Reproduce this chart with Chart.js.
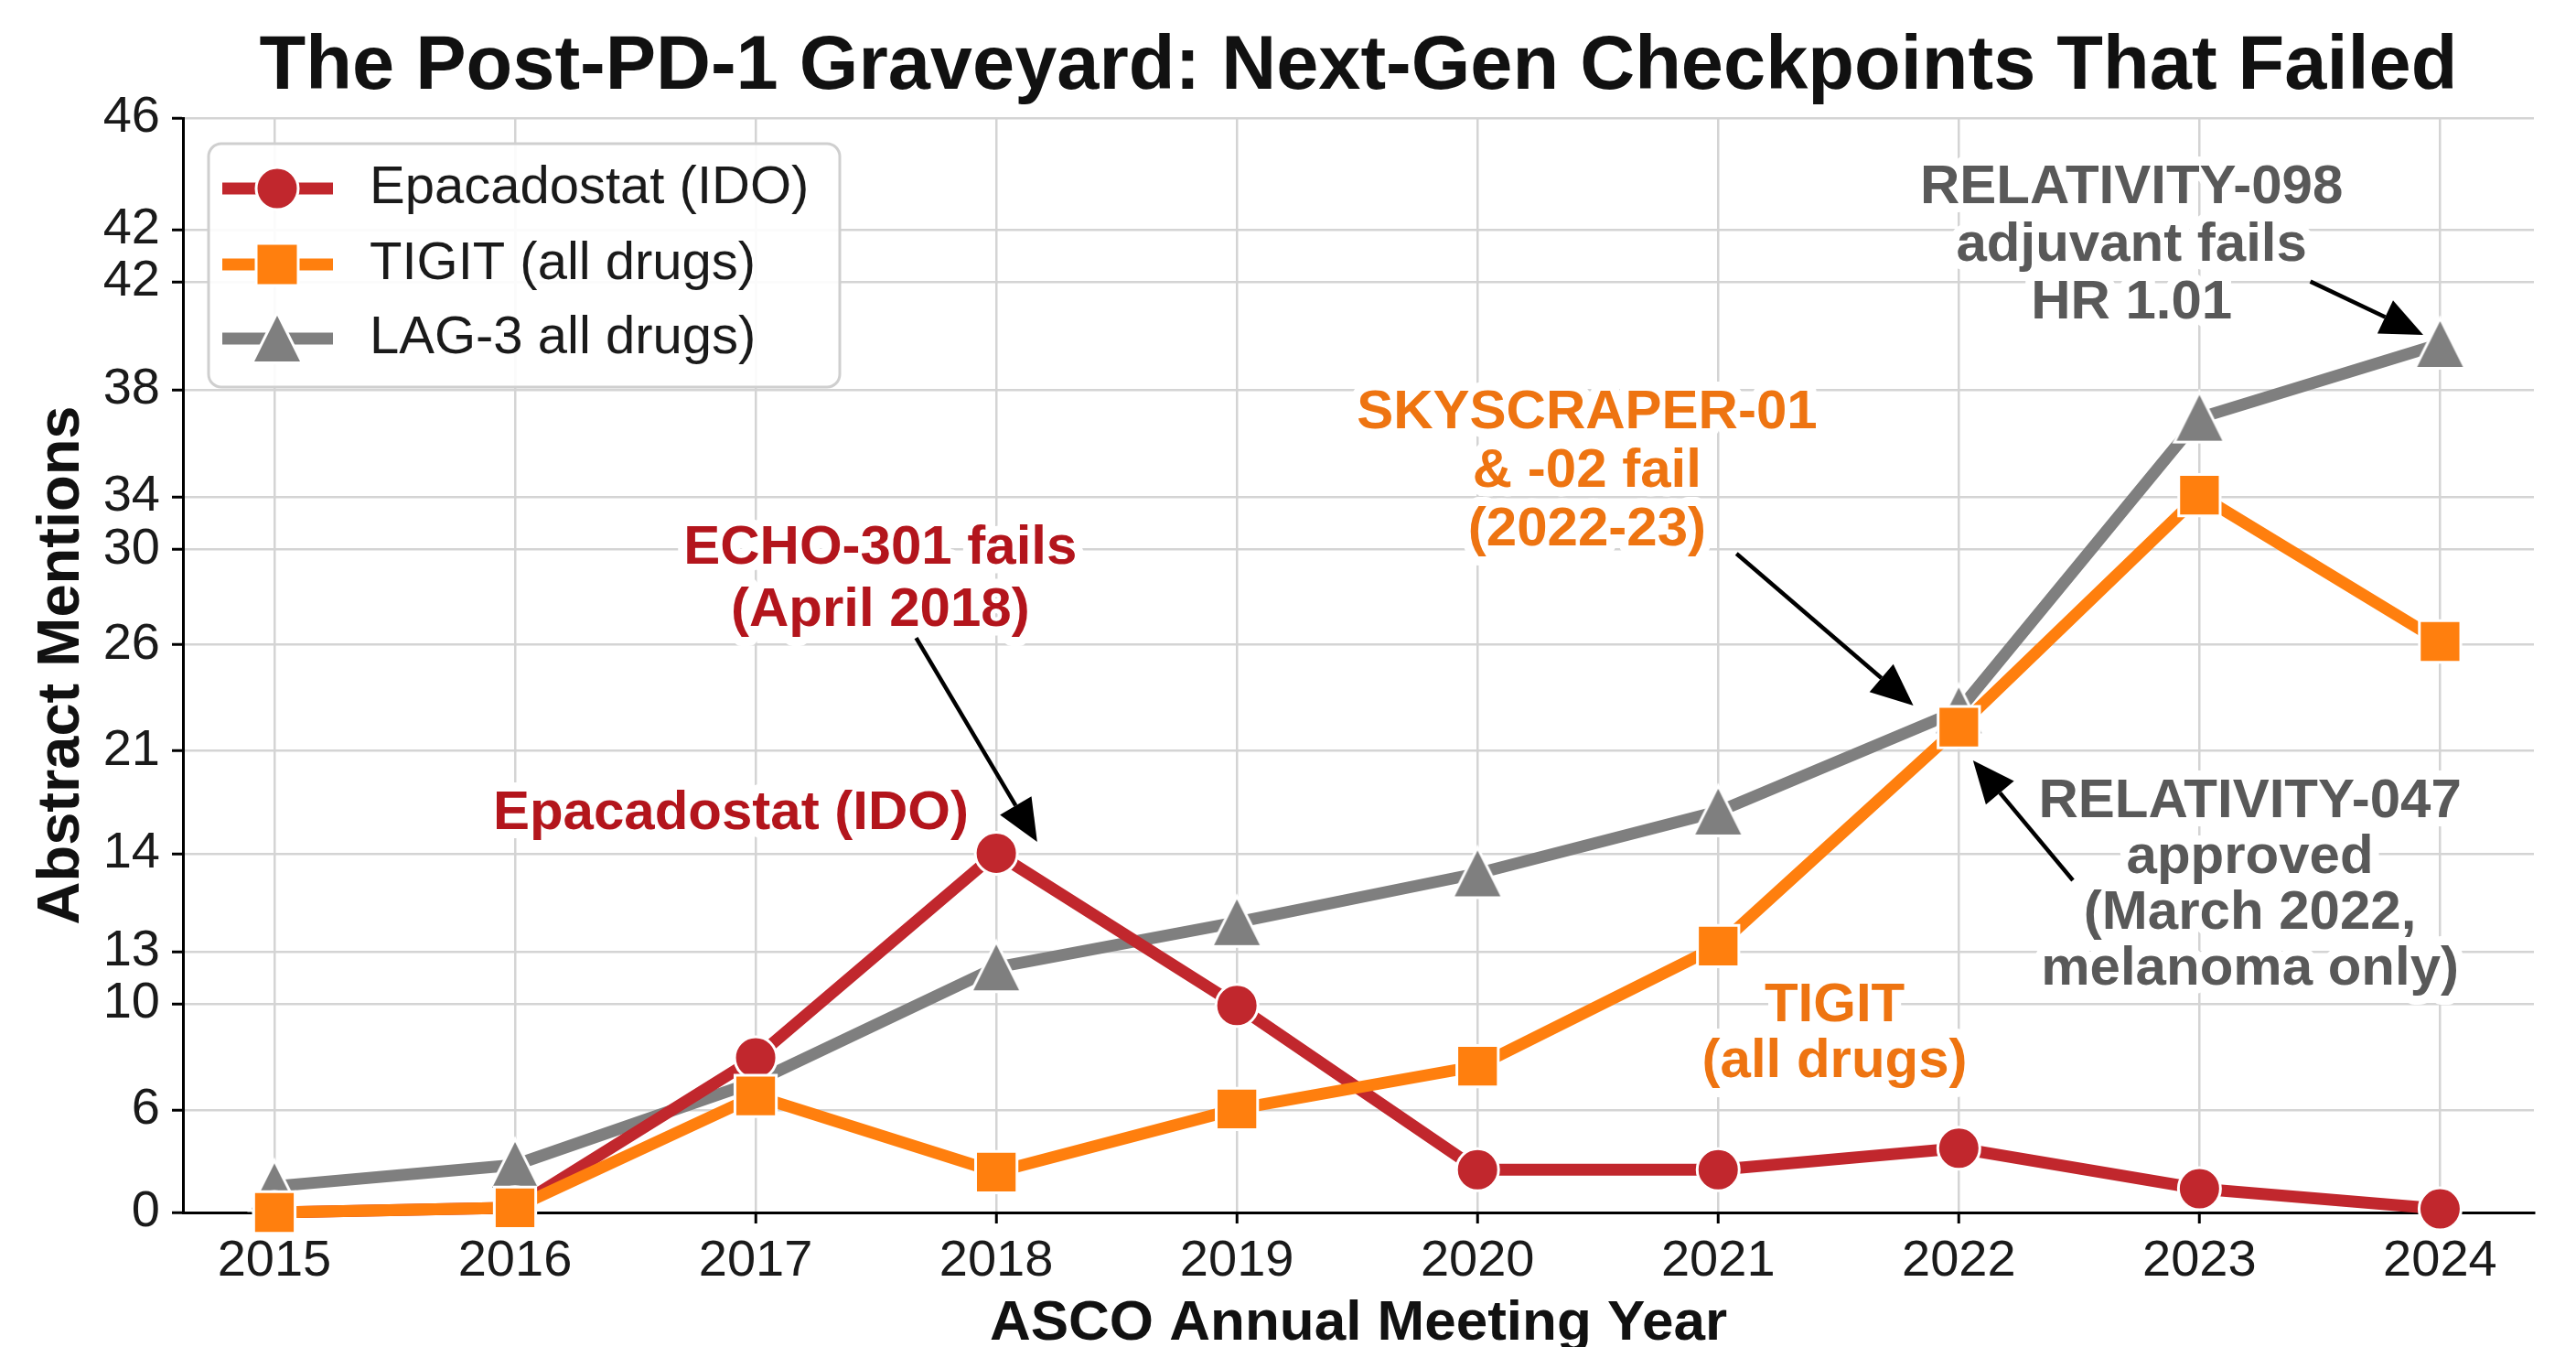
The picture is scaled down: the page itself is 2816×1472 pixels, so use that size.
<!DOCTYPE html>
<html><head><meta charset="utf-8">
<script src="https://cdn.jsdelivr.net/npm/chart.js@4.4.1/dist/chart.umd.min.js"></script>
<style>html,body{margin:0;padding:0;background:#fff;overflow:hidden}</style>
</head><body>
<canvas id="c" width="2816" height="1472" style="width:2816px;height:1472px;display:block"></canvas>
<script>
// ---------- data ----------
const years = [2015, 2016, 2017, 2018, 2019, 2020, 2021, 2022, 2023, 2024];
const epacadostat = [0, 0.2, 6.5, 15.1, 8.7, 1.8, 1.8, 2.7, 1.0, 0.15];
const tigit = [0, 0.2, 4.9, 1.7, 4.35, 6.15, 11.2, 20.4, 30.15, 24.0];
const lag3 = [1.1, 2.0, 5.5, 10.3, 12.2, 14.25, 16.85, 21.1, 33.4, 36.5];
const seriesNames = ['Epacadostat (IDO)', 'TIGIT (all drugs)', 'LAG-3 all drugs)'];
const yTickValues = [0, 4.31, 8.77, 10.96, 15.08, 19.42, 23.88, 27.88, 30.08, 34.58, 39.12, 41.31, 46];
const yTickLabels = ['0', '6', '10', '13', '14', '21', '26', '30', '34', '38', '42', '42', '46'];
const titleText = 'The Post-PD-1 Graveyard: Next-Gen Checkpoints That Failed';
const xTitle = 'ASCO Annual Meeting Year';
const yTitle = 'Abstract Mentions';

// ---------- styling ----------
const FONT = '"Liberation Sans", Arial, Helvetica, sans-serif';
const RED = '#c1272d', ORANGE = '#ff7f0e', GRAY = '#7f7f7f';
const RED_TXT = '#b3151c', ORANGE_TXT = '#ee7411', GRAY_TXT = '#595959';

// annotations (positions in data units)
const annotations = [
  {lines: ['ECHO-301 fails', '(April 2018)'], x: 2017.518, y: 26.6, gap: 68, color: RED_TXT,
   arrow: [2017.667, 24.15, 2018.17, 15.58]},
  {lines: ['Epacadostat (IDO)'], x: 2016.897, y: 16.77, gap: 63, color: RED_TXT},
  {lines: ['SKYSCRAPER-01', '& -02 fail', '(2022-23)'], x: 2020.455, y: 31.13, gap: 64, color: ORANGE_TXT,
   arrow: [2021.076, 27.69, 2021.811, 21.31]},
  {lines: ['RELATIVITY-098', 'adjuvant fails', 'HR 1.01'], x: 2022.718, y: 40.63, gap: 63, color: GRAY_TXT,
   arrow: [2023.461, 39.13, 2023.93, 36.88]},
  {lines: ['RELATIVITY-047', 'approved', '(March 2022,', 'melanoma only)'], x: 2023.21, y: 13.73, gap: 61, color: GRAY_TXT,
   arrow: [2022.474, 13.96, 2022.059, 19.0]},
  {lines: ['TIGIT', '(all drugs)'], x: 2021.484, y: 7.5, gap: 61, color: ORANGE_TXT}
];

function triangleMarker(size, fill, edge) {
  const pad = edge * 3 + 2;
  const c = document.createElement('canvas');
  c.width = c.height = Math.ceil(size + 2 * pad);
  const g = c.getContext('2d');
  g.beginPath();
  g.moveTo(c.width / 2, pad);
  g.lineTo(pad + size, pad + size);
  g.lineTo(pad, pad + size);
  g.closePath();
  g.lineJoin = 'miter';
  g.lineWidth = edge * 2; g.strokeStyle = '#fff'; g.stroke();
  g.fillStyle = fill; g.fill();
  return c;
}
const triCanvas = triangleMarker(50, GRAY, 3);

function drawArrow(ctx, x0, y0, x1, y1) {
  const ang = Math.atan2(y1 - y0, x1 - x0);
  const hl = 46, hw = 20;
  const bx = x1 - hl * Math.cos(ang), by = y1 - hl * Math.sin(ang);
  ctx.save();
  ctx.strokeStyle = '#000'; ctx.lineWidth = 4.5; ctx.lineCap = 'butt';
  ctx.beginPath(); ctx.moveTo(x0, y0); ctx.lineTo(bx, by); ctx.stroke();
  ctx.beginPath(); ctx.moveTo(x1, y1);
  ctx.lineTo(bx + hw * Math.sin(ang), by - hw * Math.cos(ang));
  ctx.lineTo(bx - hw * Math.sin(ang), by + hw * Math.cos(ang));
  ctx.closePath(); ctx.fillStyle = '#000'; ctx.fill();
  ctx.restore();
}

const overlay = {
  id: 'overlay',
  beforeDatasetsDraw(chart) {
    const ctx = chart.ctx, xs = chart.scales.x, ys = chart.scales.y;
    ctx.save();
    ctx.font = 'bold 60px ' + FONT;
    ctx.textAlign = 'center'; ctx.textBaseline = 'middle';
    annotations.forEach(a => {
      const cx = xs.getPixelForValue(a.x), cy = ys.getPixelForValue(a.y);
      const n = a.lines.length;
      ctx.lineWidth = 20; ctx.strokeStyle = '#fff'; ctx.lineJoin = 'round';
      a.lines.forEach((t, i) => ctx.strokeText(t, cx, cy + (i - (n - 1) / 2) * a.gap));
      ctx.fillStyle = a.color;
      a.lines.forEach((t, i) => ctx.fillText(t, cx, cy + (i - (n - 1) / 2) * a.gap));
    });
    ctx.restore();
  },
  afterDatasetsDraw(chart) {
    const ctx = chart.ctx, xs = chart.scales.x, ys = chart.scales.y;
    annotations.forEach(a => {
      if (!a.arrow) return;
      const [x0, y0, x1, y1] = a.arrow;
      drawArrow(ctx, xs.getPixelForValue(x0), ys.getPixelForValue(y0), xs.getPixelForValue(x1), ys.getPixelForValue(y1));
    });
  },
  afterDraw(chart) {
    const ctx = chart.ctx, A = chart.chartArea;
    const L = A.left + 28, T = A.top + 28, W = 690, H = 266;
    ctx.save();
    ctx.beginPath();
    ctx.roundRect(L, T, W, H, 14);
    ctx.fillStyle = 'rgba(255,255,255,0.9)'; ctx.fill();
    ctx.lineWidth = 3; ctx.strokeStyle = '#cfcfcf'; ctx.stroke();
    const rows = [A.top + 77, A.top + 160, A.top + 241];
    const colors = [RED, ORANGE, GRAY];
    rows.forEach((ry, i) => {
      ctx.strokeStyle = colors[i]; ctx.lineWidth = 13; ctx.lineCap = 'butt';
      ctx.beginPath(); ctx.moveTo(A.left + 43, ry); ctx.lineTo(A.left + 164, ry); ctx.stroke();
      const mx = A.left + 103;
      ctx.fillStyle = colors[i]; ctx.strokeStyle = '#fff'; ctx.lineWidth = 3;
      if (i === 0) {
        ctx.beginPath(); ctx.arc(mx, ry, 23, 0, Math.PI * 2); ctx.fill(); ctx.stroke();
      } else if (i === 1) {
        ctx.beginPath(); ctx.rect(mx - 23, ry - 23, 46, 46); ctx.fill(); ctx.stroke();
      } else {
        ctx.drawImage(triCanvas, mx - triCanvas.width / 2, ry - triCanvas.height / 2);
      }
      ctx.fillStyle = '#1a1a1a'; ctx.font = '58px ' + FONT;
      ctx.textAlign = 'left'; ctx.textBaseline = 'middle';
      ctx.fillText(seriesNames[i], A.left + 204, ry);
    });
    ctx.restore();
  }
};

const gridOpts = {color: '#d4d4d4', lineWidth: 2.5, tickColor: '#000', tickWidth: 3, tickLength: 12};
const borderOpts = {display: true, color: '#000', width: 3};

new Chart(document.getElementById('c'), {
  type: 'line',
  data: {
    datasets: [
      {label: seriesNames[0], data: years.map((x, i) => ({x, y: epacadostat[i]})),
       borderColor: RED, backgroundColor: RED, borderWidth: 13, pointStyle: 'circle', pointRadius: 23,
       pointBackgroundColor: RED, pointBorderColor: '#fff', pointBorderWidth: 3, order: 2, clip: false},
      {label: seriesNames[1], data: years.map((x, i) => ({x, y: tigit[i]})),
       borderColor: ORANGE, backgroundColor: ORANGE, borderWidth: 13, pointStyle: 'rect', pointRadius: 32,
       pointBackgroundColor: ORANGE, pointBorderColor: '#fff', pointBorderWidth: 3, order: 1, clip: false},
      {label: seriesNames[2], data: years.map((x, i) => ({x, y: lag3[i]})),
       borderColor: GRAY, backgroundColor: GRAY, borderWidth: 13, pointStyle: triCanvas, pointRadius: 27,
       order: 3, clip: false}
    ]
  },
  options: {
    responsive: false, animation: false, devicePixelRatio: 1,
    layout: {padding: {left: 0, right: 46, top: 0, bottom: 0}},
    plugins: {
      legend: {display: false}, tooltip: {enabled: false},
      title: {display: true, text: titleText, fullSize: false, color: '#111',
              font: {family: FONT, size: 83, weight: 'bold', lineHeight: 1.2}, padding: {top: 24, bottom: 5.4}}
    },
    scales: {
      x: {type: 'linear', min: 2014.62, max: 2024.39,
          afterBuildTicks: s => { s.ticks = years.map(v => ({value: v})); },
          afterFit: s => { s.height = 147; },
          grid: gridOpts, border: borderOpts,
          ticks: {font: {family: FONT, size: 56}, color: '#1a1a1a', padding: 8, maxRotation: 0, autoSkip: false,
                  callback: v => String(v)},
          title: {display: true, text: xTitle, color: '#111', font: {family: FONT, size: 62, weight: 'bold', lineHeight: 1},
                  padding: {top: 0, bottom: -6}}},
      y: {type: 'linear', min: 0, max: 46,
          afterBuildTicks: s => { s.ticks = yTickValues.map(v => ({value: v})); },
          afterFit: s => { s.width = 200; },
          grid: gridOpts, border: borderOpts,
          ticks: {font: {family: FONT, size: 56}, color: '#1a1a1a', padding: 13, autoSkip: false,
                  callback: (v, i) => yTickLabels[i]},
          title: {display: true, text: yTitle, color: '#111', font: {family: FONT, size: 65, weight: 'bold', lineHeight: 1},
                  padding: {top: 36, bottom: 0}}}
    }
  },
  plugins: [overlay]
});
</script>
</body></html>
